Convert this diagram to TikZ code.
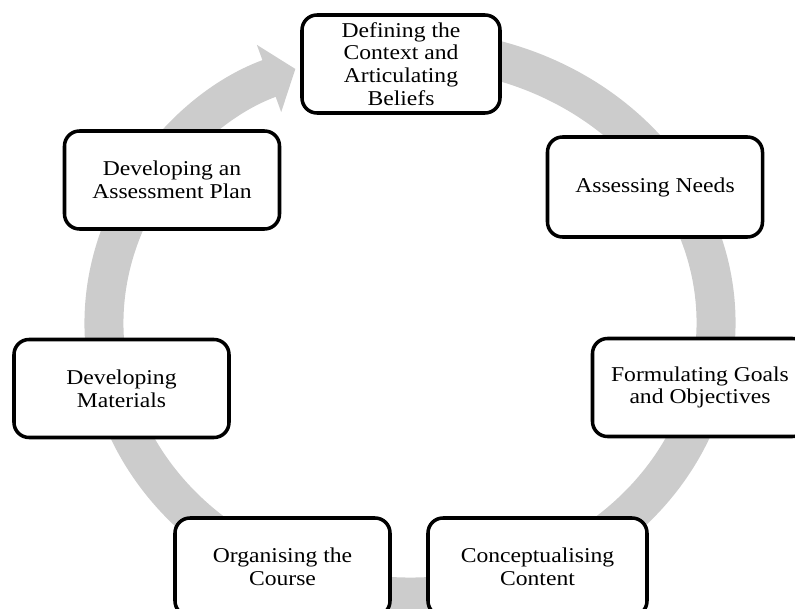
\documentclass[tikz,border=0pt]{standalone}
\usepackage{fontspec}
\setmainfont{Liberation Serif}[FakeStretch=1.12]
\usetikzlibrary{arrows.meta,shapes,backgrounds,calc}

\begin{document}
\begin{tikzpicture}
        \tikzstyle{stage}=[rectangle, rounded corners=3mm, line width=2pt, draw=black!100, fill=white!100,
          align=center, inner sep=0pt, minimum width=43mm, minimum height=19.6mm,
          font=\fontsize{12}{13}\selectfont]
        \tikzstyle{cycle}=[line width=7.8mm, black!20]
        \useasboundingbox (0,0) rectangle (15.9,12.18);
        \clip (0,0) rectangle (15.9,12.18);
        % the seven stages
        \node [stage, minimum width=39.6mm] (define) at (8.02,10.90) {Defining the\\Context and\\Articulating\\Beliefs};
        \node [stage, minimum height=20mm] (needs) at (13.10,8.44) {Assessing Needs};
        \node [stage] (goals) at (14.00,4.43) {Formulating Goals\\and Objectives};
        \node [stage, minimum width=43.8mm] (content) at (10.75,0.84) {Conceptualising\\Content};
        \node [stage] (course) at (5.65,0.84) {Organising the\\Course};
        \node [stage] (materials) at (2.43,4.41) {Developing\\Materials};
        \node [stage] (plan) at (3.44,8.58) {Developing an\\Assessment Plan};
        \coordinate (hub) at (8.2,5.72);
        \begin{pgfonlayer}{background}
          \draw [cycle, -{Triangle[length=5.6mm, width=14mm]}]
            ($(hub)+(80:6.12 and 5.48)$) arc [start angle=80, end angle=-248, x radius=6.12, y radius=5.48];
        \end{pgfonlayer}
      \end{tikzpicture}
\end{document}
